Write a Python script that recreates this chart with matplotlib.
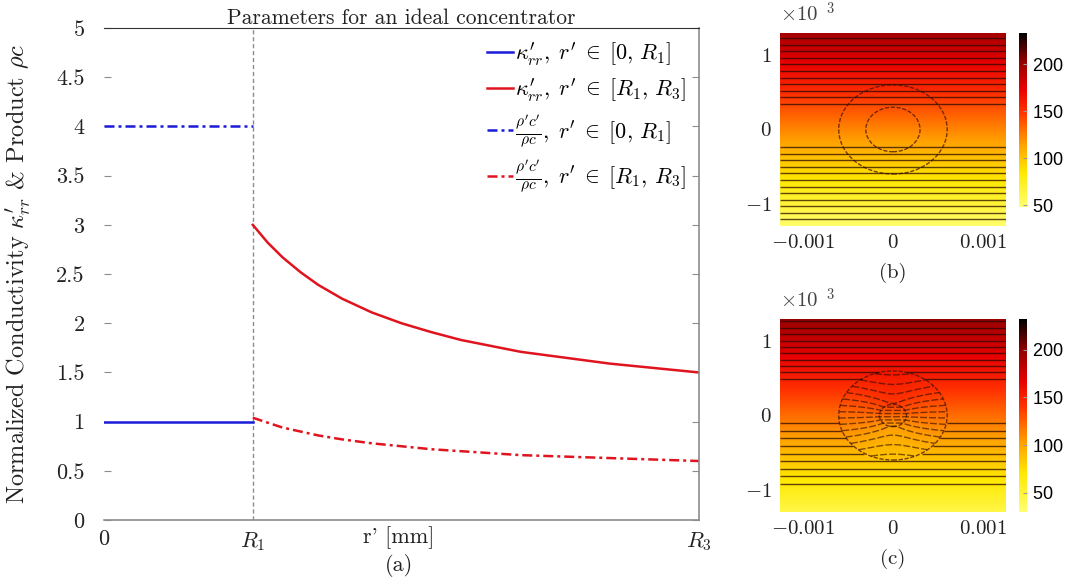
import numpy as np
import matplotlib
matplotlib.use("Agg")
import matplotlib.pyplot as plt
import matplotlib.ticker as ticker
from matplotlib.colors import LinearSegmentedColormap
from matplotlib.patches import Circle

plt.rcParams.update({
    "font.family": "serif",
    "font.serif": ["cmr10"],
    "mathtext.fontset": "cm",
    "axes.formatter.use_mathtext": True,
})

# ── (a) parameters, r' normalised by R3 ──────────────────────────────────────
R_CORE   = [0.0, 0.25]
K_CORE   = [1.0, 1.0]
RC_CORE  = [4.0, 4.0]
R_SHELL  = [0.25, 0.275, 0.30, 0.33, 0.36, 0.40, 0.45, 0.50, 0.55, 0.60,
            0.65, 0.70, 0.75, 0.80, 0.85, 0.90, 0.95, 1.00]
K_SHELL  = [3.00, 2.82, 2.67, 2.52, 2.39, 2.25, 2.11, 2.00, 1.91, 1.83,
            1.77, 1.71, 1.67, 1.63, 1.59, 1.56, 1.53, 1.50]
RC_SHELL = [1.04, 0.99, 0.94, 0.90, 0.86, 0.82, 0.78, 0.75, 0.72, 0.70,
            0.68, 0.66, 0.65, 0.64, 0.63, 0.62, 0.61, 0.60]
X_TICKS  = [0.0, 0.25, 1.0]
X_LABELS = ["0", "$R_1$", "$R_3$"]
Y_TICKS  = [0, 0.5, 1, 1.5, 2, 2.5, 3, 3.5, 4, 4.5, 5]

# ── (b), (c) temperature maps, lengths in 1e-3 m ─────────────────────────────
FIELD_X = (-1.25, 1.25)
FIELD_Y = (-1.3, 1.3)
R_1, R_2, R_3 = 0.15, 0.30, 0.60
B_T = (50, 197)            # bottom / top temperature
C_T = (45, 197)
B_CLIM = (48, 233)
C_CLIM = (30, 232)
B_LEVELS = [55, 60, 65, 70, 75, 80, 85, 90, 95, 100, 105, 110,
            143, 148, 153, 158, 163, 168, 173, 178, 183, 188, 193]
C_LEVELS_OUT = [67, 73, 79, 85, 91, 97, 103, 109, 115,
                150, 155, 160, 165, 170, 175, 180, 185, 190, 195]
C_LEVELS_IN = [84, 89, 94, 99, 104, 109, 114, 119, 124, 129, 134, 139, 144, 149, 154]
CB_TICKS = [50, 100, 150, 200]

BLUE = "#1a1ad8"
RED = "#e0141e"
GRAY = "#8c8c8c"
TXT = "#222222"

cmap = LinearSegmentedColormap.from_list(
    "heat", [(0.0, "#ffff70"), (0.2, "#ffe800"), (0.36, "#ffa000"),
             (0.55, "#ff3000"), (0.68, "#e80000"), (0.84, "#900000"),
             (1.0, "#000000")])

fig = plt.figure(figsize=(10.77, 5.85), dpi=100)

# ── panel (a) ─────────────────────────────────────────────────────────────────
ax = fig.add_axes([0.0966, 0.111, 0.5525, 0.841])
ax.axvline(R_CORE[1], color=GRAY, lw=1.0, ls=(0, (3, 2)), zorder=1)
dashdot = (0, (4, 1.6, 1.2, 1.6))
ax.plot(R_CORE, K_CORE, color=BLUE, lw=1.8,
        label=r"$\kappa^{\prime}_{rr},\;r'\;\in\;[0,\,R_1]$")
ax.plot(R_SHELL, K_SHELL, color=RED, lw=1.8,
        label=r"$\kappa^{\prime}_{rr},\;r'\;\in\;[R_1,\,R_3]$")
ax.plot(R_CORE, RC_CORE, color=BLUE, lw=1.8, ls=dashdot,
        label=r"$\frac{\rho'c'}{\rho c},\;r'\;\in\;[0,\,R_1]$")
ax.plot(R_SHELL, RC_SHELL, color=RED, lw=1.8, ls=dashdot,
        label=r"$\frac{\rho'c'}{\rho c},\;r'\;\in\;[R_1,\,R_3]$")

ax.set_xlim(0, 1)
ax.set_ylim(0, 5)
ax.set_xticks(X_TICKS)
ax.set_xticklabels(X_LABELS)
ax.set_yticks(Y_TICKS)
ax.yaxis.set_major_formatter(ticker.FuncFormatter(lambda v, p: f"{v:g}"))
ax.tick_params(axis="y", direction="in", length=5, color=GRAY, labelsize=16,
               labelcolor=TXT, pad=14, right=True)
ax.tick_params(axis="x", length=0, labelsize=16, labelcolor=TXT, pad=7)
ax.spines["left"].set_visible(False)
ax.spines["top"].set_color("#333333")
for s in ("right", "bottom"):
    ax.spines[s].set_color(GRAY)
    ax.spines[s].set_linewidth(1.2)

ax.set_title("Parameters for an ideal concentrator", fontsize=15.5, color=TXT, pad=2)
ax.set_ylabel(r"Normalized Conductivity $\kappa^{\prime}_{rr}$ & Product $\rho c$",
              fontsize=17.5, color=TXT)
ax.yaxis.set_label_coords(-0.12, 0.5)
ax.text(0.495, -0.035, "r' [mm]", transform=ax.transAxes, fontsize=16,
        color=TXT, ha="center", va="center")
ax.text(0.495, -0.093, "(a)", transform=ax.transAxes, fontsize=16,
        color=TXT, ha="center", va="center")

leg = ax.legend(loc="upper right", frameon=False, fontsize=16, handlelength=1.2,
                handletextpad=0.1, labelspacing=0.4, borderaxespad=0.15)

# ── panels (b) and (c) ────────────────────────────────────────────────────────
gx = np.linspace(FIELD_X[0], FIELD_X[1], 500)
gy = np.linspace(FIELD_Y[0], FIELD_Y[1], 500)
X, Y = np.meshgrid(gx, gy)
R = np.hypot(X, Y)


def field(t_lim, concentrate):
    # linear gradient in y; the concentrator maps r' back to the original r
    y_src = Y.copy()
    if concentrate:
        r_src = np.where(R < R_1, R * R_2 / R_1,
                         np.where(R < R_3, R_2 + (R - R_1) * (R_3 - R_2) / (R_3 - R_1), R))
        y_src = np.where(R > 0, r_src * Y / np.where(R > 0, R, 1), 0.0)
    return t_lim[0] + (t_lim[1] - t_lim[0]) * (y_src - FIELD_Y[0]) / (FIELD_Y[1] - FIELD_Y[0])


def panel(rect, cbar_rect, t_lim, clim, tag, concentrate):
    a = fig.add_axes(rect)
    T = field(t_lim, concentrate)
    im = a.imshow(T, extent=[*FIELD_X, *FIELD_Y], origin="lower", aspect="auto",
                  cmap=cmap, vmin=clim[0], vmax=clim[1], interpolation="bilinear")
    line_kw = dict(colors="#2a0a00", linewidths=1.0, alpha=0.75)
    if concentrate:
        a.contour(X, Y, np.ma.masked_where(R < R_3, T), levels=C_LEVELS_OUT, **line_kw)
        a.contour(X, Y, np.ma.masked_where(R > R_3, T), levels=C_LEVELS_IN,
                  colors="#2a0a00", linewidths=1.0, alpha=0.6,
                  linestyles=[(0, (5, 1.5))])
        radii = [R_1, R_3]
    else:
        a.contour(X, Y, T, levels=B_LEVELS, **line_kw)
        radii = [R_2, R_3]
    for rr in radii:
        a.add_patch(Circle((0, 0), rr, fill=False, ec="#4a1500", lw=1.0,
                           ls=(0, (3, 1.2)), alpha=0.75))
    a.set_xlim(*FIELD_X)
    a.set_ylim(*FIELD_Y)
    a.set_xticks([-1, 0, 1])
    a.set_xticklabels(["$-0.001$", "$0$", "$0.001$"])
    a.set_yticks([-1, 0, 1])
    a.set_yticklabels(["$-1$", "$0$", "$1$"])
    a.tick_params(length=0, labelsize=15, labelcolor=TXT, pad=6)
    for s in a.spines.values():
        s.set_visible(False)
    a.text(0.5, -0.245, tag, transform=a.transAxes, fontsize=15, color=TXT,
           ha="center", va="center")
    a.text(0.0, 1.1, r"$\times10^{\ \ 3}$", transform=a.transAxes, fontsize=15,
           color="#444444", ha="left", va="center")

    ca = fig.add_axes(cbar_rect)
    cb = fig.colorbar(im, cax=ca, ticks=CB_TICKS)
    cb.outline.set_visible(False)
    ca.tick_params(length=3, direction="in", color="#999999", labelsize=13, pad=4)
    for lab in ca.get_yticklabels():
        lab.set_fontfamily("Liberation Sans")
    return a


panel([0.7242, 0.6137, 0.2098, 0.33], [0.9461, 0.6462, 0.0074, 0.2974],
      B_T, B_CLIM, "(b)", False)
panel([0.7242, 0.1248, 0.2098, 0.33], [0.9461, 0.1248, 0.0074, 0.33],
      C_T, C_CLIM, "(c)", True)

fig.savefig("out.png", dpi=100, facecolor="white")
